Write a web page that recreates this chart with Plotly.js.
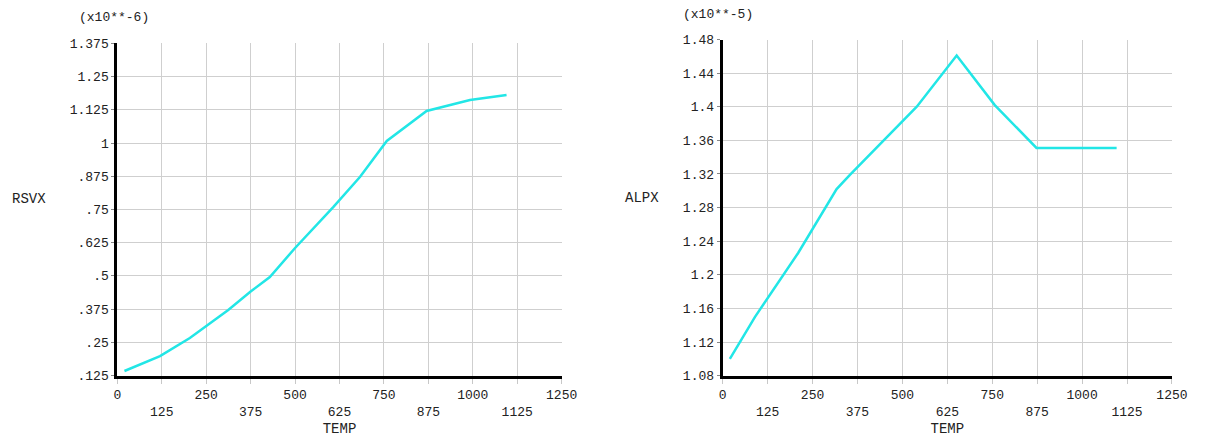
<!DOCTYPE html>
<html>
<head>
<meta charset="utf-8">
<script src="https://cdn.plot.ly/plotly-3.0.1.min.js"></script>
<style>html,body{margin:0;padding:0;background:#fff;}#chart{width:1216px;height:441px;}</style>
</head>
<body>
<div id="chart"></div>
<script>
// Left chart: RSVX vs TEMP (values in x10**-6)
const tempRsvx = [20, 120, 204, 312, 375, 429, 500, 608, 683, 758, 870, 992, 1095];
const rsvx     = [0.142, 0.198, 0.266, 0.372, 0.441, 0.496, 0.605, 0.760, 0.873, 1.008, 1.121, 1.162, 1.181];

// Right chart: ALPX vs TEMP (values in x10**-5)
const tempAlpx = [20, 90, 210, 317, 354, 540, 651, 757, 873, 1096];
const alpx     = [1.100, 1.150, 1.226, 1.302, 1.319, 1.400, 1.461, 1.402, 1.351, 1.351];

// Tick labels
const xTickVals = [0, 125, 250, 375, 500, 625, 750, 875, 1000, 1125, 1250];
const xTickText = ['0', '<br>125', '250', '<br>375', '500', '<br>625', '750', '<br>875', '1000', '<br>1125', '1250'];
const rsvxTickVals = [0.125, 0.25, 0.375, 0.5, 0.625, 0.75, 0.875, 1, 1.125, 1.25, 1.375];
const rsvxTickText = ['.125', '.25', '.375', '.5', '.625', '.75', '.875', '1', '1.125', '1.25', '1.375'];
const alpxTickVals = [1.08, 1.12, 1.16, 1.2, 1.24, 1.28, 1.32, 1.36, 1.4, 1.44, 1.48];
const alpxTickText = ['1.08', '1.12', '1.16', '1.2', '1.24', '1.28', '1.32', '1.36', '1.4', '1.44', '1.48'];

const FONT = 'Liberation Mono, Courier New, monospace';
const LINE = '#22e6e6';

const traces = [
  {x: tempRsvx, y: rsvx, xaxis: 'x', yaxis: 'y', mode: 'lines', line: {color: LINE, width: 2.5}, hoverinfo: 'skip'},
  {x: tempAlpx, y: alpx, xaxis: 'x2', yaxis: 'y2', mode: 'lines', line: {color: LINE, width: 2.5}, hoverinfo: 'skip'}
];

function xAx(domain, anchor) {
  return {
    domain: domain, anchor: anchor, range: [0, 1250],
    tickmode: 'array', tickvals: xTickVals, ticktext: xTickText,
    showgrid: true, gridcolor: '#cfcfcf', gridwidth: 1,
    zeroline: false, showline: true, linecolor: '#000', linewidth: 3,
    ticks: 'outside', ticklen: 5, tickcolor: '#c8c8c8', tickwidth: 1,
    tickfont: {family: FONT, size: 13, color: '#222'},
    title: {text: 'TEMP', font: {family: FONT, size: 14, color: '#222'}, standoff: 5},
    fixedrange: true
  };
}
function yAx(domain, anchor, range, vals, text) {
  return {
    domain: domain, anchor: anchor, range: range,
    tickmode: 'array', tickvals: vals, ticktext: text,
    showgrid: true, gridcolor: '#cfcfcf', gridwidth: 1,
    zeroline: false, showline: true, linecolor: '#000', linewidth: 3,
    ticks: 'outside', ticklen: 3, tickcolor: '#888', tickwidth: 1,
    tickfont: {family: FONT, size: 13, color: '#222'},
    fixedrange: true
  };
}

const layout = {
  width: 1216, height: 441,
  margin: {l: 0, r: 0, t: 0, b: 0},
  paper_bgcolor: '#fff', plot_bgcolor: '#fff',
  showlegend: false,
  xaxis: xAx([0.0965, 0.4619], 'y'),
  yaxis: yAx([0.1485, 0.9014], 'x', [0.125, 1.375], rsvxTickVals, rsvxTickText),
  xaxis2: xAx([0.5943, 0.9638], 'y2'),
  yaxis2: yAx([0.1481, 0.9104], 'x2', [1.08, 1.48], alpxTickVals, alpxTickText),
  annotations: [
    {text: '(x10**-6)', xref: 'paper', yref: 'paper', x: 114 / 1216, y: 1 - 17 / 441, xanchor: 'center', yanchor: 'middle', showarrow: false, font: {family: FONT, size: 13, color: '#222'}},
    {text: 'RSVX', xref: 'paper', yref: 'paper', x: 29 / 1216, y: 1 - 199 / 441, xanchor: 'center', yanchor: 'middle', showarrow: false, font: {family: FONT, size: 14, color: '#222'}},
    {text: '(x10**-5)', xref: 'paper', yref: 'paper', x: 718 / 1216, y: 1 - 14 / 441, xanchor: 'center', yanchor: 'middle', showarrow: false, font: {family: FONT, size: 13, color: '#222'}},
    {text: 'ALPX', xref: 'paper', yref: 'paper', x: 642 / 1216, y: 1 - 198 / 441, xanchor: 'center', yanchor: 'middle', showarrow: false, font: {family: FONT, size: 14, color: '#222'}}
  ]
};

Plotly.newPlot('chart', traces, layout, {displayModeBar: false, staticPlot: true});
</script>
</body>
</html>
